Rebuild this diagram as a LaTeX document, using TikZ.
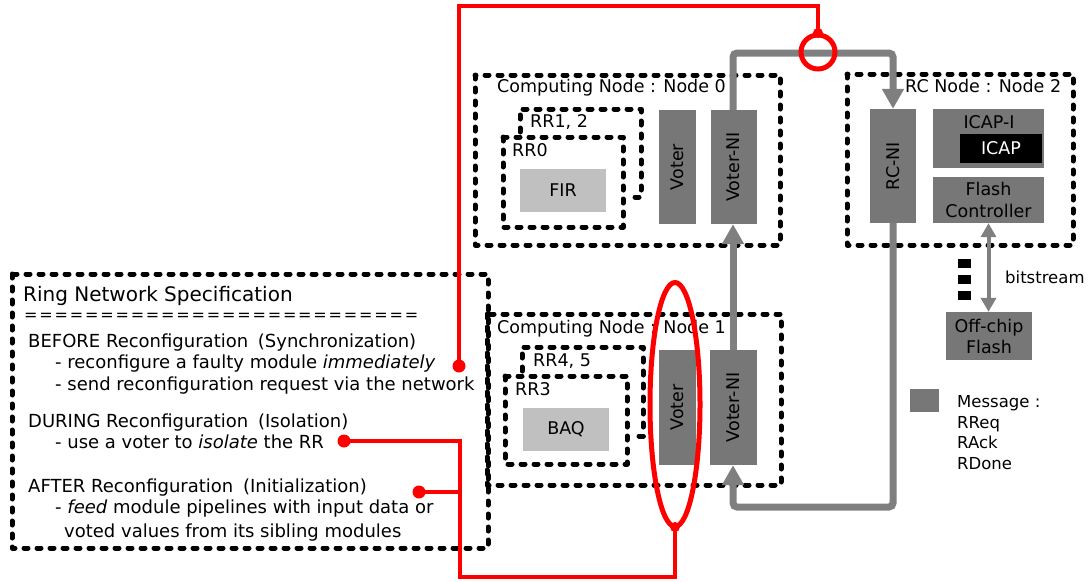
\documentclass[tikz,border=0pt]{standalone}
\usepackage{fontspec}
\setmainfont{DejaVu Sans}
\usetikzlibrary{arrows.meta}
\definecolor{dgray}{HTML}{777777}
\definecolor{lgray}{HTML}{C0C0C0}
\definecolor{ringgray}{HTML}{7F7F7F}
\definecolor{myred}{HTML}{FF0000}
\newcommand\fsmain{\fontsize{17.5}{21}\selectfont}
\newcommand\fsspec{\fontsize{18}{21.6}\selectfont}
\newcommand\fsbig{\fontsize{20}{24}\selectfont}
\newcommand\fsleg{\fontsize{16.5}{20}\selectfont}
\newcommand\fseq{\fontsize{16}{19}\selectfont}
\begin{document}
\begin{tikzpicture}[x=1pt,y=-1pt,
  frame/.style={draw=black, line width=5pt, dash pattern=on 4pt off 9pt, line cap=round, line join=round},
  dbox/.style={fill=dgray, draw=none, inner sep=0pt, font=\fsmain},
  lbox/.style={fill=lgray, draw=none, inner sep=0pt, font=\fsmain},
  txt/.style={inner sep=0pt, anchor=base west, font=\fsmain},
  spec/.style={inner sep=0pt, anchor=base west, font=\fsspec},
  vtxt/.style={inner sep=0pt, rotate=90, font=\fsmain},
  ringarrow/.style={draw=ringgray, line width=7pt, rounded corners=4pt, -{Triangle[width=21pt,length=20pt]}},
  redline/.style={draw=myred, line width=3.5pt},
  redcirc/.style={draw=myred, line width=5pt},
  reddot/.style={circle, fill=myred, draw=none, inner sep=0pt, minimum size=13pt}
]
\useasboundingbox (0,0) rectangle (1092,581);

% ---------- Computing Node 0 ----------
\draw[frame] (475,75) rectangle (780,245);
\node[txt] (n0title) at (497,92.5) {Computing Node : Node 0};
\draw[frame] (520,132) -- (520,109) -- (641,109) -- (641,197) -- (629,197);
\node[txt] (rr12) at (530,127) {RR1, 2};
\draw[frame] (503,137) rectangle (623,227);
\node[txt] (rr0) at (512,156) {RR0};
\node[lbox, minimum width=86pt, minimum height=43pt] (fir) at (563,190.5) {FIR};
\node[dbox, minimum width=37pt, minimum height=114pt] (v0) at (677.5,167) {};
\node[vtxt] (v0t) at (v0) {Voter};
\node[dbox, minimum width=46pt, minimum height=114pt] (vni0) at (733.5,167) {};
\node[vtxt] (vni0t) at (vni0) {Voter-NI};

% ---------- Computing Node 1 ----------
\draw[frame] (487,314) rectangle (781,485);
\node[txt] (n1title) at (497,333) {Computing Node : Node 1};
\draw[frame] (522,371) -- (522,347) -- (643,347) -- (643,436) -- (631,436);
\node[txt] (rr45) at (533,366) {RR4, 5};
\draw[frame] (505,376) rectangle (627,464);
\node[txt] (rr3) at (515,395) {RR3};
\node[lbox, minimum width=86pt, minimum height=43pt] (baq) at (566,429.5) {BAQ};
\node[dbox, minimum width=37pt, minimum height=115pt] (v1) at (677.5,407.5) {};
\node[vtxt] (v1t) at (v1) {Voter};
\node[dbox, minimum width=47pt, minimum height=115pt] (vni1) at (733.5,407.5) {};
\node[vtxt] (vni1t) at (vni1) {Voter-NI};

% ---------- RC Node 2 ----------
\draw[frame] (847,74) rectangle (1073,245);
\node[txt] (n2title) at (905,92) {RC Node : Node 2};
\node[dbox, minimum width=46pt, minimum height=114pt] (rcni) at (893,166) {};
\node[vtxt] (rcnit) at (rcni) {RC-NI};
\node[dbox, minimum width=111pt, minimum height=59pt] (icapi) at (988.5,138.5) {};
\node[inner sep=0pt, font=\fsmain] (icapit) at (989,122) {ICAP-I};
\node[fill=black, text=white, inner sep=0pt, minimum width=82pt, minimum height=29pt, font=\fsmain] (icap) at (1001,148.5) {ICAP};
\node[dbox, minimum width=111pt, minimum height=46pt, align=center, font=\fsmain] (flash) at (988.5,200) {Flash\\[1pt]Controller};
\node[dbox, minimum width=86pt, minimum height=48pt, align=center, font=\fsmain] (off) at (989,336) {Off-chip\\[0pt]Flash};
\node[fill=black, inner sep=0pt, minimum width=12.5pt, minimum height=8.5pt] (sq1) at (964.5,263.3) {};
\node[fill=black, inner sep=0pt, minimum width=12.5pt, minimum height=9pt] (sq2) at (964.5,279.5) {};
\node[fill=black, inner sep=0pt, minimum width=12.5pt, minimum height=9pt] (sq3) at (964.5,295.4) {};
\node[txt, font=\fsleg] (bits) at (1005,283) {bitstream};
\draw[draw=ringgray, line width=4pt, {Triangle[width=15pt,length=14pt]}-{Triangle[width=15pt,length=14pt]}] (flash.south) -- (flash.south |- off.north);

% ---------- Legend ----------
\node[fill=dgray, inner sep=0pt, minimum width=29pt, minimum height=23pt] (leg) at (924.5,400.5) {};
\node[txt, font=\fsleg] (legm) at (957,407) {Message :};
\node[txt, font=\fsleg] (legq) at (957,428.5) {RReq};
\node[txt, font=\fsleg] (lega) at (957,448) {RAck};
\node[txt, font=\fsleg] (legd) at (957,469.5) {RDone};

% ---------- Ring network ----------
\draw[ringarrow] (vni0.north -| 733,0) -- (733,53) -- (893,53) -- (rcni.north);
\draw[ringarrow] (rcni.south) -- (893,507) -- (733,507) -- (vni1.south -| 733,0);
\draw[ringarrow] (vni1.north -| 733,0) -- (vni0.south -| 733,0);

% ---------- Specification ----------
\draw[frame] (12,274) rectangle (488,548);
\node[txt, font=\fsbig] (spt) at (23,301) {Ring Network Specification};
\node[inner sep=0pt, anchor=west, font=\fseq] (speq) at (24,317) {\makebox[394pt][s]{=\hfill=\hfill=\hfill=\hfill=\hfill=\hfill=\hfill=\hfill=\hfill=\hfill=\hfill=\hfill=\hfill=\hfill=\hfill=\hfill=\hfill=\hfill=\hfill=\hfill=\hfill=\hfill=\hfill=\hfill=\hfill=}};
\node[spec] (s1) at (28,347) {BEFORE Reconfiguration\hspace{4pt} (Synchronization)};
\node[spec] (s2) at (55,368) {- reconfigure a faulty module \textit{immediately}};
\node[spec] (s3) at (55,390) {- send reconfiguration request via the network};
\node[spec] (s4) at (28,427) {DURING Reconfiguration\hspace{4pt} (Isolation)};
\node[spec] (s5) at (55,448) {- use a voter to \textit{isolate} the RR};
\node[spec] (s6) at (28,492) {AFTER Reconfiguration\hspace{4pt} (Initialization)};
\node[spec] (s7) at (55,513) {- \textit{feed} module pipelines with input data or};
\node[spec] (s8) at (64,537) {voted values from its sibling modules};

% ---------- Red annotations ----------
\node[reddot] (d1) at (459,366) {};
\node[reddot] (d2) at (344,441) {};
\node[reddot] (d3) at (419,492) {};
\node[reddot, minimum size=10pt] (d4) at (818,33) {};
\node[reddot, minimum size=10pt] (d5) at (675,527) {};
\coordinate (cc) at (818,52);
\coordinate (ec) at (675,404.5);
\draw[redline] (d1.center) -- (459,6) -| (d4.center);
\draw[redcirc] (cc) circle (17pt);
\draw[redcirc] (ec) ellipse (25pt and 122pt);
\draw[redline] (d5.center) -- (675,577) -| (460,441) -- (d2.center);
\draw[redline] (d3.center) -- (460,492);
\end{tikzpicture}
\end{document}
